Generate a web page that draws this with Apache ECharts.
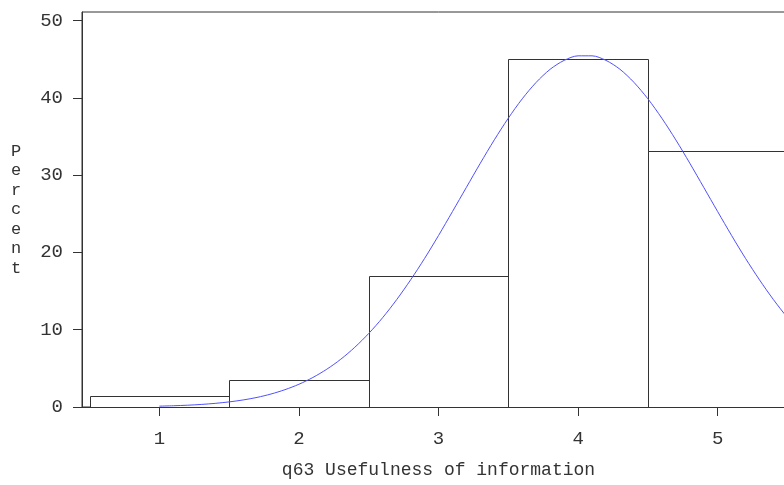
<!DOCTYPE html>
<html lang="en" style="height: 100%">
<head>
  <meta charset="utf-8" />
</head>
<body style="height: 100%; margin: 0; background: #fff; overflow: hidden">
  <div id="container" style="width: 800px; height: 485px"></div>
  <script src="https://cdn.jsdelivr.net/npm/echarts@6/dist/echarts.min.js"></script>
  <script type="text/javascript">
    // histogram bins (midpoints) and percent per bin
    var binMids = [1, 2, 3, 4, 5];
    var binPercent = [1.46, 3.44, 16.96, 45.04, 33.1];

    // fitted normal curve
    var curveX = [1.0, 1.1, 1.2, 1.3, 1.4, 1.5, 1.6, 1.7, 1.8, 1.9,
                  2.0, 2.1, 2.2, 2.3, 2.4, 2.5, 2.6, 2.7, 2.8, 2.9,
                  3.0, 3.1, 3.2, 3.3, 3.4, 3.5, 3.6, 3.7, 3.8, 3.9,
                  4.0, 4.1, 4.2, 4.3, 4.4, 4.5, 4.6, 4.7, 4.8, 4.9,
                  5.0, 5.1, 5.2, 5.3, 5.4, 5.5, 5.6];
    var curveY = [0.11, 0.16, 0.23, 0.33, 0.47, 0.66, 0.91, 1.24, 1.68, 2.24,
                  2.94, 3.82, 4.89, 6.18, 7.72, 9.51, 11.56, 13.88, 16.44, 19.21,
                  22.18, 25.28, 28.42, 31.55, 34.56, 37.36, 39.87, 42.0, 43.69, 44.84,
                  45.43, 45.43, 44.84, 43.69, 42.0, 39.87, 37.36, 34.56, 31.55, 28.42,
                  25.28, 22.18, 19.21, 16.44, 13.88, 11.56, 9.51];

    var xTicks = [1, 2, 3, 4, 5];
    var yTicks = [0, 10, 20, 30, 40, 50];

    var font = "Liberation Mono";
    var ink = "#333";

    var chart = echarts.init(document.getElementById("container"), null, { renderer: "canvas" });

    var barData = binMids.map(function (m, i) { return [m, binPercent[i]]; });
    var curveData = curveX.map(function (x, i) { return [x, curveY[i]]; });

    var option = {
      animation: false,
      grid: {
        left: 82, top: 12, bottom: 78, right: 5,
        outerBoundsMode: "none",
        show: true, borderColor: ink, borderWidth: 1, backgroundColor: "transparent"
      },
      xAxis: {
        type: "value",
        min: 0.446, max: 5.554,
        name: "q63 Usefulness of information",
        nameLocation: "middle",
        nameGap: 54,
        nameTextStyle: { fontFamily: font, fontSize: 18, color: ink, padding: [0, 0, 0, 0] },
        axisLine: { lineStyle: { color: ink } },
        axisTick: { show: true, length: 9, lineStyle: { color: ink }, customValues: xTicks },
        axisLabel: { margin: 22, fontFamily: font, fontSize: 19, color: ink, customValues: xTicks },
        splitLine: { show: false }
      },
      yAxis: {
        type: "value",
        min: 0, max: 51.1,
        name: "P\ne\nr\nc\ne\nn\nt",
        nameLocation: "middle",
        nameRotate: 0,
        nameGap: 66,
        nameTextStyle: { fontFamily: font, fontSize: 17, color: ink, lineHeight: 19.5, align: "center", verticalAlign: "middle", padding: [6, 0, 0, 0] },
        axisLine: { show: true, lineStyle: { color: ink } },
        axisTick: { show: true, length: 9, lineStyle: { color: ink }, customValues: yTicks },
        axisLabel: { margin: 19, fontFamily: font, fontSize: 19, color: ink, customValues: yTicks },
        splitLine: { show: false }
      },
      series: [
        {
          type: "custom",
          data: barData,
          clip: true,
          renderItem: function (params, api) {
            var m = api.value(0), v = api.value(1);
            var p0 = api.coord([m - 0.5, v]);
            var p1 = api.coord([m + 0.5, 0]);
            var x0 = Math.round(p0[0]) + 0.5, y0 = Math.round(p0[1]) + 0.5;
            var x1 = Math.round(p1[0]) + 0.5, y1 = Math.round(p1[1]) + 0.5;
            return {
              type: "rect",
              shape: { x: x0, y: y0, width: x1 - x0, height: y1 - y0 },
              style: { fill: "#fff", stroke: ink, lineWidth: 1 }
            };
          }
        },
        {
          type: "line",
          data: curveData,
          smooth: 0.3,
          showSymbol: false,
          clip: true,
          z: 5,
          lineStyle: { color: "#5050ff", width: 1 }
        }
      ]
    };

    chart.setOption(option);
  </script>
</body>
</html>
